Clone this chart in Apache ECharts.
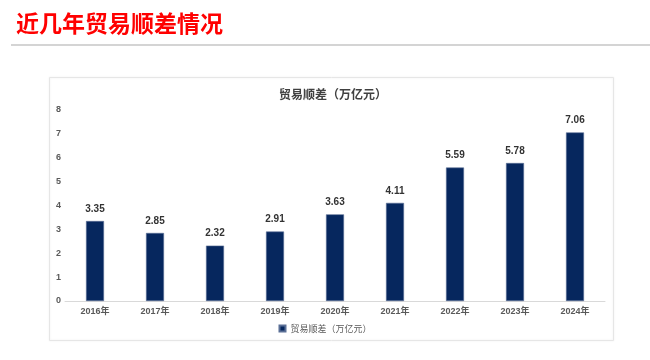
<!DOCTYPE html>
<html><head><meta charset="utf-8">
<script src="https://cdn.jsdelivr.net/npm/echarts@6/dist/echarts.min.js"></script>
<style>html,body{margin:0;padding:0;background:#fff}#c{width:650px;height:360px}</style>
</head><body><div id="c"></div>
<script>
const categories = ['2016年','2017年','2018年','2019年','2020年','2021年','2022年','2023年','2024年'];
const values = [3.35, 2.85, 2.32, 2.91, 3.63, 4.11, 5.59, 5.78, 7.06];
const seriesName = '贸易顺差（万亿元）';
const pageTitle = '近几年贸易顺差情况';
const yTicks = [0,1,2,3,4,5,6,7,8];

const FONT = '"Liberation Sans", "Noto Sans CJK SC", sans-serif';
const chart = echarts.init(document.getElementById('c'));
chart.setOption({
  animation: false,
  backgroundColor: '#fff',
  graphic: [
    {type:'text', left: 16, top: 12, style:{text: pageTitle, fill:'#ff0000', font:'bold 23px "Noto Sans CJK SC", sans-serif'}},
    {type:'rect', shape:{x:11, y:44, width:639, height:2}, style:{fill:'#d4d4d4'}},
    {type:'rect', shape:{x:49.5, y:77.5, width:564, height:263}, style:{fill:'none', stroke:'#e6e6e6', lineWidth:1, shadowBlur:2, shadowColor:'rgba(0,0,0,0.08)'}}
  ],
  title: {
    text: seriesName, left: 274, top: 83,
    textStyle: {fontSize: 12, fontWeight: 'bold', color: '#404040', fontFamily: '"Noto Sans CJK SC", sans-serif'}
  },
  legend: {
    data: [seriesName], bottom: 22, left: 'center',
    icon: 'rect', itemWidth: 6, itemHeight: 6, itemGap: 4,
    textStyle: {fontSize: 9, color: '#595959', fontFamily: '"Noto Sans CJK SC", sans-serif'}
  },
  grid: {left: 65, right: 45, top: 110, bottom: 59, containLabel: false},
  xAxis: {
    type: 'category', data: categories,
    axisLine: {lineStyle: {color: '#d9d9d9'}},
    axisTick: {show: false},
    axisLabel: {fontSize: 9, fontWeight: 'bold', color: '#595959', margin: 6, fontFamily: FONT}
  },
  yAxis: {
    type: 'value', min: 0, max: 8, interval: 1,
    splitLine: {show: false},
    axisLine: {show: false}, axisTick: {show: false},
    axisLabel: {fontSize: 9, fontWeight: 'bold', color: '#595959', margin: 9, align: 'left',
      formatter: v => yTicks.includes(v) ? String(v) : '', fontFamily: FONT}
  },
  series: [{
    name: seriesName, type: 'bar', data: values, barWidth: 18,
    itemStyle: {color: '#06275e', borderColor: '#5a6f96', borderWidth: 0.6},
    label: {show: true, position: 'top', distance: 7, fontSize: 10, fontWeight: 'bold', color: '#333',
      fontFamily: FONT, formatter: p => p.value.toFixed(2)}
  }]
});
</script></body></html>
